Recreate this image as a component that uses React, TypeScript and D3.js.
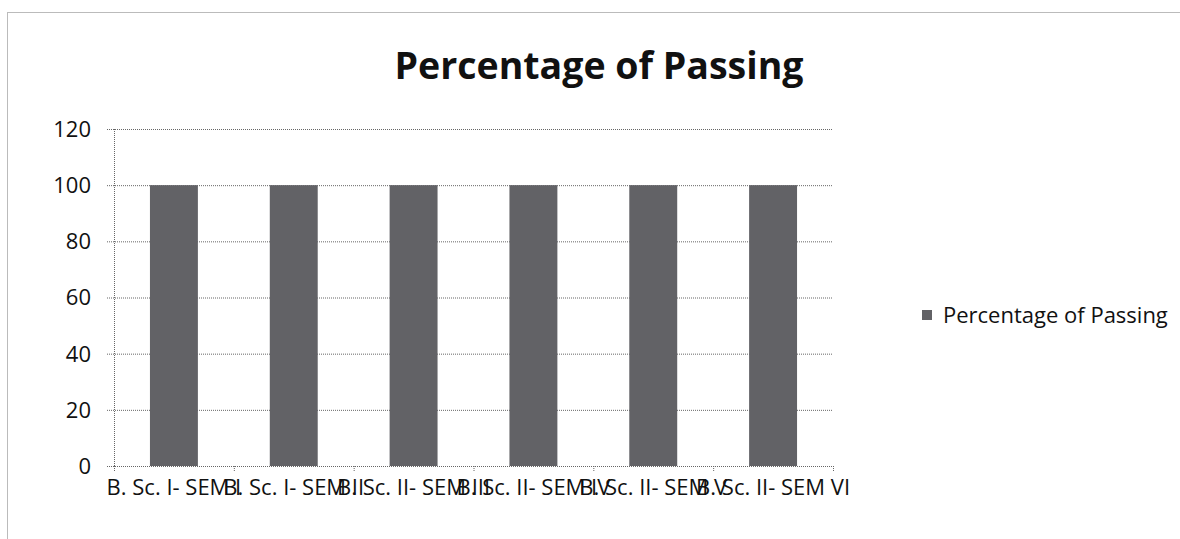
import { useEffect, useRef } from 'react';
import * as d3 from "d3";

const categories = [
    "B. Sc. I- SEM I",
    "B. Sc. I- SEM II",
    "B. Sc. II- SEM III",
    "B. Sc. II- SEM IV",
    "B. Sc. II- SEM V",
    "B. Sc. II- SEM VI",
];
const passing = [100, 100, 100, 100, 100, 100];
const yTicks = [0, 20, 40, 60, 80, 100, 120];
const seriesName = "Percentage of Passing";
const chartTitle = "Percentage of Passing";

const FONT = "'Open Sans', Lato, sans-serif";

const App = () => {
    const ref = useRef<SVGSVGElement | null>(null);

    useEffect(() => {
        if (!ref.current) return;
        const width = 1180;
        const height = 539;
        const margin = { top: 129, right: 347, bottom: 73, left: 114 };
        const innerWidth = width - margin.left - margin.right;
        const innerHeight = height - margin.top - margin.bottom;

        const svg = d3.select(ref.current)
            .attr("width", width)
            .attr("height", height);
        svg.selectAll("*").remove();

        svg.append("rect")
            .attr("width", width).attr("height", height).attr("fill", "white");

        // 바깥 테두리
        svg.append("rect")
            .attr("x", 7.5).attr("y", 12.5)
            .attr("width", width + 10).attr("height", height + 10)
            .attr("fill", "none")
            .attr("stroke", "#777")
            .attr("stroke-dasharray", "1 1");

        const x = d3.scaleBand()
            .domain(categories)
            .range([0, innerWidth])
            .paddingInner(0.6)
            .paddingOuter(0.3);
        const xStep = d3.scaleBand().domain(categories).range([0, innerWidth]);

        const y = d3.scaleLinear().domain([0, 120]).range([innerHeight, 0]);

        const g = svg.append("g")
            .attr("transform", `translate(${margin.left}, ${margin.top})`);

        // 격자선
        g.selectAll(".grid")
            .data(yTicks)
            .enter()
            .append("line")
            .attr("x1", -7).attr("x2", innerWidth)
            .attr("y1", d => y(d) + 0.5).attr("y2", d => y(d) + 0.5)
            .attr("stroke", "#666")
            .attr("stroke-dasharray", "1 1");

        // 막대
        g.selectAll(".bar")
            .data(passing)
            .enter()
            .append("rect")
            .attr("x", (_, i) => x(categories[i]) || 0)
            .attr("y", d => y(d))
            .attr("width", x.bandwidth())
            .attr("height", d => innerHeight - y(d))
            .attr("fill", "#626266");

        // y축
        g.append("line")
            .attr("x1", 0.5).attr("x2", 0.5)
            .attr("y1", 0).attr("y2", innerHeight)
            .attr("stroke", "#666")
            .attr("stroke-dasharray", "1 1");

        g.selectAll(".ylabel")
            .data(yTicks)
            .enter()
            .append("text")
            .attr("x", -23)
            .attr("y", d => y(d))
            .attr("dy", "0.36em")
            .attr("text-anchor", "end")
            .attr("font-family", FONT)
            .attr("font-size", "22px")
            .attr("fill", "#111")
            .text(d => `${d}`);

        // x축 눈금
        const bounds = [0, ...categories.map(c => (xStep(c) || 0) + xStep.bandwidth())];
        g.selectAll(".xtick")
            .data(bounds)
            .enter()
            .append("line")
            .attr("x1", d => d + 0.5).attr("x2", d => d + 0.5)
            .attr("y1", innerHeight).attr("y2", innerHeight + 6)
            .attr("stroke", "#666")
            .attr("stroke-dasharray", "1 1");

        // x축 레이블 (원본처럼 서로 겹침)
        g.selectAll(".xlabel")
            .data(categories)
            .enter()
            .append("text")
            .attr("x", d => (xStep(d) || 0) + xStep.bandwidth() / 2)
            .attr("y", innerHeight + 29)
            .attr("text-anchor", "middle")
            .attr("font-family", FONT)
            .attr("font-size", "22px")
            .attr("fill", "#111")
            .text(d => d);

        // 제목
        svg.append("text")
            .attr("x", 599)
            .attr("y", 79)
            .attr("text-anchor", "middle")
            .attr("font-family", FONT)
            .attr("font-weight", "bold")
            .attr("font-size", "37.5px")
            .attr("fill", "#111")
            .text(chartTitle);

        // 범례
        svg.append("rect")
            .attr("x", 922).attr("y", 310)
            .attr("width", 10).attr("height", 10)
            .attr("fill", "#626266");
        svg.append("text")
            .attr("x", 943)
            .attr("y", 315)
            .attr("dy", "0.36em")
            .attr("font-family", FONT)
            .attr("font-size", "22px")
            .attr("fill", "#111")
            .text(seriesName);
    }, []);

    return (
        <div style={{ position: "absolute", left: 0, top: 0 }}>
            <svg ref={ref} style={{ display: "block" }}></svg>
        </div>
    );
};

export default App;
